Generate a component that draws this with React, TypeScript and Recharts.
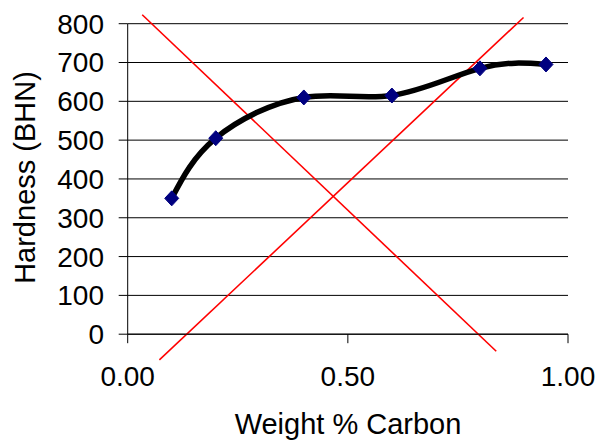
import { LineChart, Line, XAxis, YAxis, CartesianGrid, ReferenceLine } from "recharts"

const carbon = [0.1, 0.2, 0.4, 0.6, 0.8, 0.95]
const hardness = [350, 505, 610, 615, 685, 695]
const xTicks = [0, 0.5, 1]
const yTicks = [0, 100, 200, 300, 400, 500, 600, 700, 800]

// the two red crossing lines, start and end in data units
const crossDown = [
  { x: 0.033, y: 823 },
  { x: 0.837, y: -44 },
]
const crossUp = [
  { x: 0.072, y: -66 },
  { x: 0.899, y: 816 },
]

const points = carbon.map((c, i) => ({ carbon: c, hardness: hardness[i] }))

const font = "'Liberation Sans', Arial, sans-serif"

function Diamond(props: any) {
  const { cx, cy, index } = props
  if (cx == null || cy == null) return null
  return (
    <polygon
      key={index}
      points={`${cx},${cy - 7.5} ${cx + 7},${cy} ${cx},${cy + 7.5} ${cx - 7},${cy}`}
      fill="#000080"
      stroke="#000080"
    />
  )
}

export default function App() {
  return (
    <div style={{ position: "absolute", left: 0, top: 0, background: "#fff" }}>
      <LineChart
        width={607}
        height={442}
        data={points}
        margin={{ top: 23.7, right: 39, bottom: 0, left: 0 }}
        style={{ fontFamily: font }}
      >
        <CartesianGrid vertical={false} stroke="#000" strokeDasharray="" />
        <XAxis
          dataKey="carbon"
          type="number"
          domain={[0, 1]}
          ticks={xTicks}
          tickFormatter={(v: number) => v.toFixed(2)}
          height={107.8}
          tickSize={9}
          tickMargin={23.3}
          stroke="#000"
          tick={{ fill: "#000", fontSize: 28 }}
          label={{
            content: () => (
              <text x={348} y={434} textAnchor="middle" fontSize={29} fill="#000" fontFamily={font}>
                Weight % Carbon
              </text>
            ),
          }}
        />
        <YAxis
          type="number"
          domain={[0, 800]}
          ticks={yTicks}
          width={127.7}
          tickSize={9}
          tickMargin={14.7}
          stroke="#000"
          tick={{ fill: "#000", fontSize: 28 }}
          label={{
            content: () => (
              <text
                x={0}
                y={0}
                transform="translate(35,177.5) rotate(-90)"
                textAnchor="middle"
                fontSize={29}
                fill="#000"
                fontFamily={font}
              >
                Hardness (BHN)
              </text>
            ),
          }}
        />
        <ReferenceLine segment={crossDown} stroke="#ff0000" strokeWidth={1.6} ifOverflow="visible" />
        <ReferenceLine segment={crossUp} stroke="#ff0000" strokeWidth={1.6} ifOverflow="visible" />
        <Line
          dataKey="hardness"
          type="natural"
          stroke="none"
          dot={Diamond}
          activeDot={false}
          isAnimationActive={false}
        />
        <Line
          dataKey="hardness"
          type="natural"
          stroke="#000"
          strokeWidth={5.5}
          dot={false}
          activeDot={false}
          isAnimationActive={false}
        />
      </LineChart>
    </div>
  )
}
